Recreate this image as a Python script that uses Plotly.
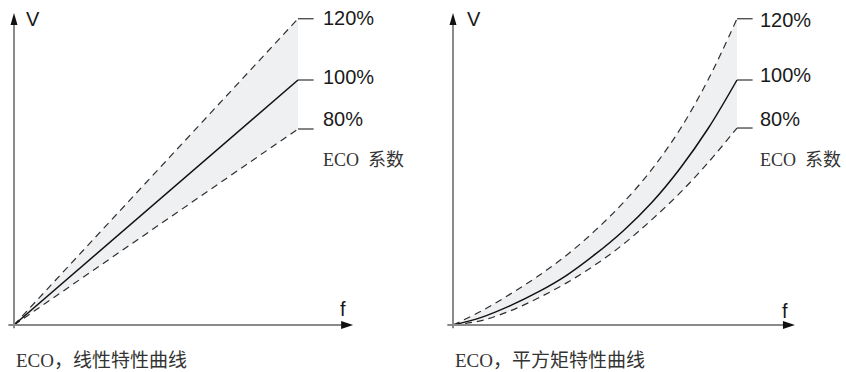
import plotly.graph_objects as go

# ---------------- data ----------------
# left panel: linear V/f characteristic (f and V normalised to the 100% end point)
lin_f = [0.0, 1.0]
lin_v120 = [0.0, 1.25]
lin_v100 = [0.0, 1.0]
lin_v80 = [0.0, 0.8]

# right panel: square-law (quadratic) characteristic
sq_f = [0.0, 0.1, 0.2, 0.3, 0.4, 0.5, 0.6, 0.7, 0.8, 0.9, 1.0]
sq_v120 = [0.0, 0.057, 0.125, 0.20, 0.285, 0.385, 0.50, 0.635, 0.80, 1.005, 1.25]
sq_v100 = [0.0, 0.031, 0.078, 0.135, 0.203, 0.288, 0.385, 0.50, 0.64, 0.805, 1.0]
sq_v80 = [0.0, 0.018, 0.057, 0.11, 0.172, 0.245, 0.33, 0.43, 0.54, 0.665, 0.804]

pct_labels = ["120%", "100%", "80%"]
factor_label = "ECO\u00a0\u00a0系数"
captions = ["ECO，线性特性曲线", "ECO，平方矩特性曲线"]
axis_labels = ["V", "f"]

# ---------------- styling ----------------
FILL = "#eff0f2"
DASH_COL = "#2e2e2e"
AXIS_COL = "#8a8a8a"
TXT = "#1a1a1a"
SANS = "Liberation Sans, Arial, sans-serif"
SERIF = "Liberation Serif, Noto Sans CJK SC, serif"

fig = go.Figure()

panels = [
    dict(xa="x", ya="y", f=lin_f, v120=lin_v120, v100=lin_v100, v80=lin_v80,
         xtip=1.194, ytip=1.273, fx=1.158, fy=0.065, vx=0.035, lab_x=1.08,
         lab_y=[1.253, 1.012, 0.841], eco_y=0.673, cap=captions[0], spline=False),
    dict(xa="x2", ya="y2", f=sq_f, v120=sq_v120, v100=sq_v100, v80=sq_v80,
         xtip=1.204, ytip=1.273, fx=1.169, fy=0.057, vx=0.042, lab_x=1.074,
         lab_y=[1.245, 1.02, 0.84], eco_y=0.673, cap=captions[1], spline=True),
]

shapes = []
annotations = []
for p in panels:
    shape = "spline" if p["spline"] else "linear"
    # fill band between 80% and 120%
    fig.add_trace(go.Scatter(x=p["f"], y=p["v80"], xaxis=p["xa"], yaxis=p["ya"],
                             mode="lines", line=dict(width=0, shape=shape),
                             hoverinfo="skip", showlegend=False))
    fig.add_trace(go.Scatter(x=p["f"], y=p["v120"], xaxis=p["xa"], yaxis=p["ya"],
                             mode="lines", line=dict(width=0, shape=shape),
                             fill="tonexty", fillcolor=FILL,
                             hoverinfo="skip", showlegend=False))
    # curves
    for key, dash, col, w in [("v120", "7px,5px", DASH_COL, 1.2),
                              ("v80", "7px,5px", DASH_COL, 1.2),
                              ("v100", "solid", "#111111", 1.5)]:
        fig.add_trace(go.Scatter(x=p["f"], y=p[key], xaxis=p["xa"], yaxis=p["ya"],
                                 mode="lines",
                                 line=dict(color=col, width=w, dash=dash, shape=shape),
                                 hoverinfo="skip", showlegend=False))
    # leader lines from curve ends
    for key in ["v120", "v100", "v80"]:
        vend = p[key][-1]
        fend = p["f"][-1]
        shapes.append(dict(type="line", xref=p["xa"], yref=p["ya"],
                           x0=fend, x1=fend + 0.055, y0=vend, y1=vend,
                           line=dict(color="#333333", width=1.2)))
    # axes
    shapes.append(dict(type="line", xref=p["xa"], yref=p["ya"],
                       x0=-0.02, x1=p["xtip"] - 0.03, y0=0, y1=0,
                       line=dict(color=AXIS_COL, width=2)))
    shapes.append(dict(type="line", xref=p["xa"], yref=p["ya"],
                       x0=0, x1=0, y0=-0.013, y1=p["ytip"] - 0.03,
                       line=dict(color=AXIS_COL, width=2)))
    # arrow heads
    shapes.append(dict(type="path", xref=p["xa"], yref=p["ya"],
                       xsizemode="pixel", ysizemode="pixel",
                       xanchor=p["xtip"], yanchor=0,
                       path="M0,0 L-12,-4 L-12,4 Z",
                       fillcolor="#111111", line=dict(width=0)))
    shapes.append(dict(type="path", xref=p["xa"], yref=p["ya"],
                       xsizemode="pixel", ysizemode="pixel",
                       xanchor=0, yanchor=p["ytip"],
                       path="M0,0 L-3.5,-12 L3.5,-12 Z",
                       fillcolor="#111111", line=dict(width=0)))
    # axis labels
    annotations.append(dict(x=p["vx"], y=1.249, xref=p["xa"], yref=p["ya"],
                            text=axis_labels[0], showarrow=False, xanchor="left",
                            yanchor="middle", font=dict(family=SANS, size=20, color=TXT)))
    annotations.append(dict(x=p["fx"], y=p["fy"], xref=p["xa"], yref=p["ya"],
                            text=axis_labels[1], showarrow=False, xanchor="center",
                            yanchor="middle", font=dict(family=SANS, size=20, color=TXT)))
    # percentage labels
    for lab, ly in zip(pct_labels, p["lab_y"]):
        annotations.append(dict(x=p["lab_x"], y=ly, xref=p["xa"], yref=p["ya"],
                                text=lab, showarrow=False, xanchor="left",
                                yanchor="middle", font=dict(family=SANS, size=20, color=TXT)))
    annotations.append(dict(x=p["lab_x"], y=p["eco_y"], xref=p["xa"], yref=p["ya"],
                            text=factor_label, showarrow=False, xanchor="left",
                            yanchor="middle", font=dict(family=SERIF, size=18, color="#333333")))
    # caption
    annotations.append(dict(x=0, y=-0.143, xref=p["xa"], yref=p["ya"],
                            text=p["cap"], showarrow=False, xanchor="left",
                            yanchor="middle", font=dict(family=SERIF, size=19, color="#333333")))

x_left_range = [-14 / 284, 409 / 284]
x_right_range = [-30 / 284, 393 / 284]
y_range = [-47 / 245, 325 / 245]

fig.update_layout(
    width=846, height=372,
    margin=dict(l=0, r=0, t=0, b=0),
    paper_bgcolor="white", plot_bgcolor="white",
    xaxis=dict(domain=[0, 0.5], range=x_left_range, visible=False, fixedrange=True),
    yaxis=dict(domain=[0, 1], range=y_range, visible=False, fixedrange=True),
    xaxis2=dict(domain=[0.5, 1], range=x_right_range, visible=False, fixedrange=True),
    yaxis2=dict(domain=[0, 1], range=y_range, visible=False, anchor="x2", fixedrange=True),
    shapes=shapes,
    annotations=annotations,
    showlegend=False,
)

fig.write_html(
    "out.html",
    config={"displayModeBar": False, "staticPlot": True},
    post_script="document.body.style.margin='0px';document.body.style.padding='0px';"
                "document.body.style.overflow='hidden';",
)
